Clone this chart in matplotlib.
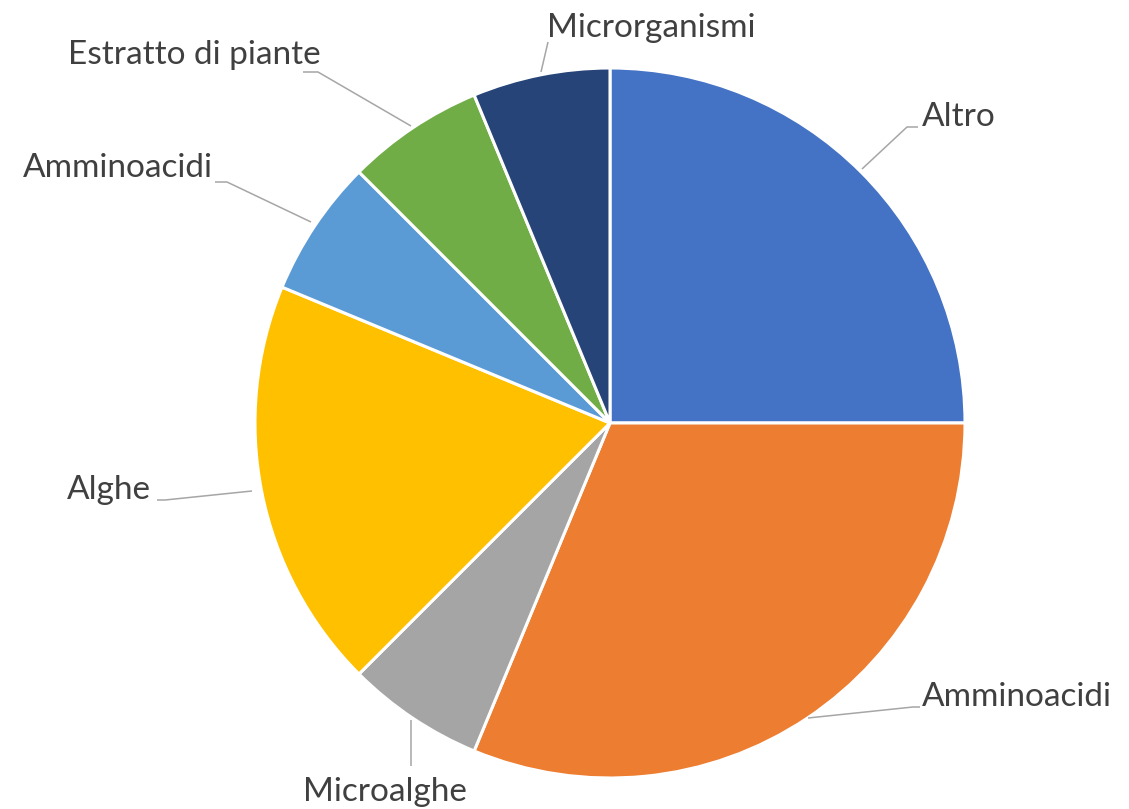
import matplotlib.pyplot as plt

# Dati del grafico (in senso orario dalle ore 12)
categorie = ["Altro", "Amminoacidi", "Microalghe", "Alghe", "Amminoacidi",
             "Estratto di piante", "Microrganismi"]
valori = [4, 5, 1, 3, 1, 1, 1]
colori = ["#4472C4", "#ED7D31", "#A5A5A5", "#FFC000", "#5B9BD5",
          "#70AD47", "#264478"]

W, H = 1129, 809
CX, CY, R = 610, 423, 355


def px(x, y):
    # pixel -> coordinate dati (raggio torta = 1)
    return (x - CX) / R, (CY - y) / R


fig = plt.figure(figsize=(W / 100, H / 100), dpi=100)
ax = fig.add_axes([0, 0, 1, 1])

ax.pie(valori, colors=colori, startangle=90, counterclock=False, radius=1,
       wedgeprops=dict(edgecolor="white", linewidth=2.2))

ax.set_aspect("auto")
ax.set_xlim(-CX / R, (W - CX) / R)
ax.set_ylim((CY - H) / R, CY / R)
ax.axis("off")

# linee guida (punti in pixel) e posizione delle etichette
guide = [
    [(862, 169), (907, 127), (918, 127)],
    [(808, 718), (913, 707), (920, 707)],
    [(411, 720), (411, 766)],
    [(252, 491), (165, 500), (157, 500)],
    [(311, 222), (227, 182), (215, 182)],
    [(411, 126), (318, 72), (303, 72)],
    [(541, 72), (548, 42)],
]
testi = [
    ((922, 117), "left", "center"),
    ((922, 697), "left", "center"),
    ((385, 792), "center", "center"),
    ((151, 490), "right", "center"),
    ((213, 168), "right", "center"),
    ((321, 55), "right", "center"),
    ((547, 28), "left", "center"),
]

for nome, linea, (pos, ha, va) in zip(categorie, guide, testi):
    pts = [px(*p) for p in linea]
    ax.plot([p[0] for p in pts], [p[1] for p in pts], color="#A6A6A6",
            linewidth=1.1, solid_capstyle="butt")
    x, y = px(*pos)
    ax.text(x, y, nome, ha=ha, va=va, fontsize=24, color="#404040",
            family="Lato")

fig.savefig("out.png", dpi=100, facecolor="white")
